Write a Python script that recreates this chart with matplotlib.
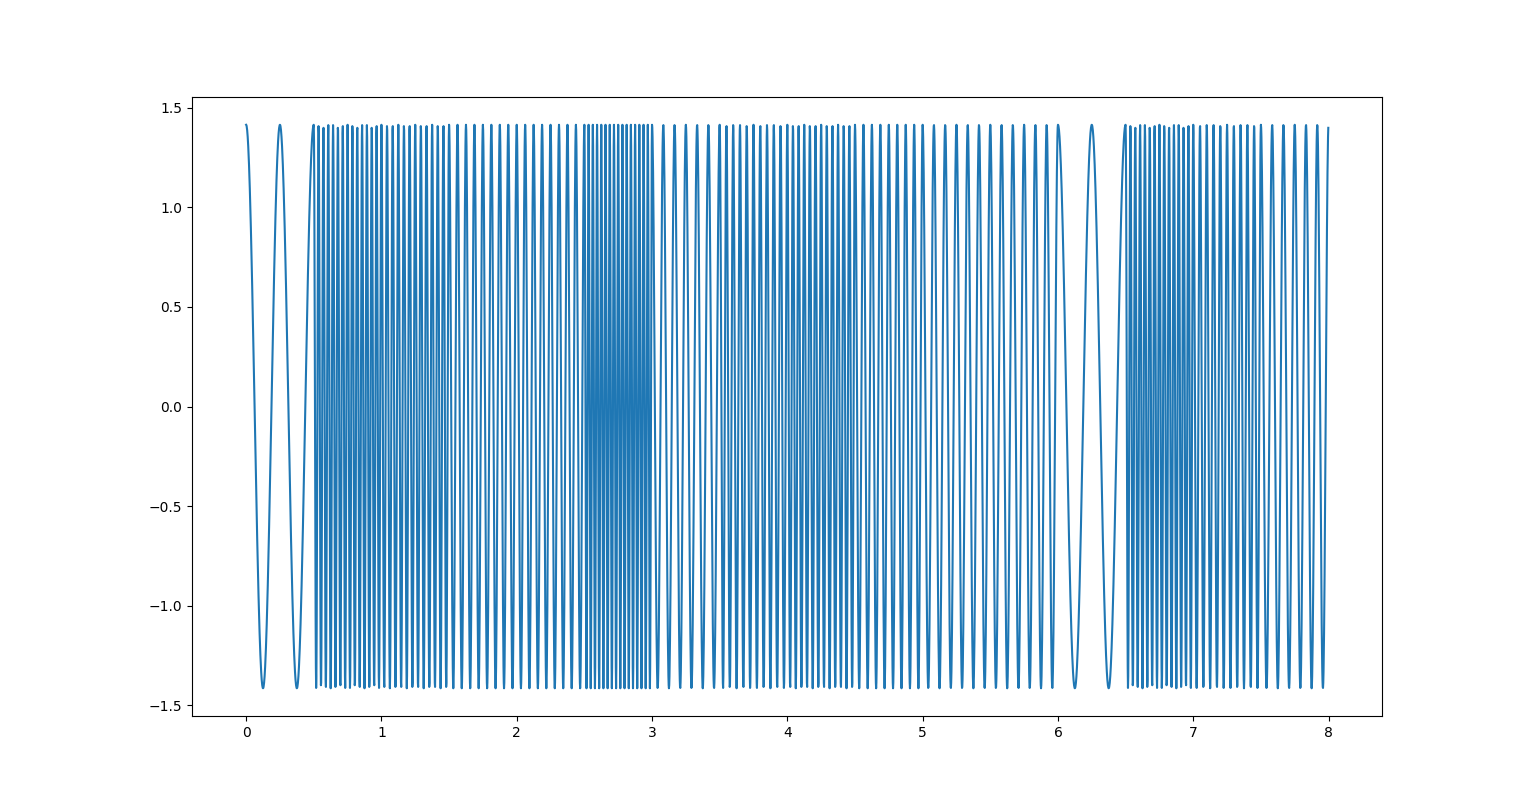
import numpy as np
import matplotlib
matplotlib.use("Agg")
import matplotlib.pyplot as plt

# Segment boundaries (seconds) and visible tone frequency (Hz) in each segment
segment_starts = [0.0, 0.5, 1.0, 1.5, 2.0, 2.5, 3.0, 3.5, 4.0, 4.5, 5.0, 5.5, 6.0, 6.5, 7.0, 7.5]
segment_freqs = [4, 28, 24, 16, 16, 32, 12, 20, 24, 16, 12, 12, 4, 28, 20, 12]
amplitude = np.sqrt(2)
sample_rate = 512
duration = 8.0

t = np.arange(0, duration, 1.0 / sample_rate)
idx = np.searchsorted(segment_starts, t, side="right") - 1
f = np.asarray(segment_freqs)[idx]
x = amplitude * np.cos(2 * np.pi * f * t)

fig, ax = plt.subplots(figsize=(15.36, 8.05), dpi=100)
ax.plot(t, x)
fig.savefig("out.png", dpi=100)
